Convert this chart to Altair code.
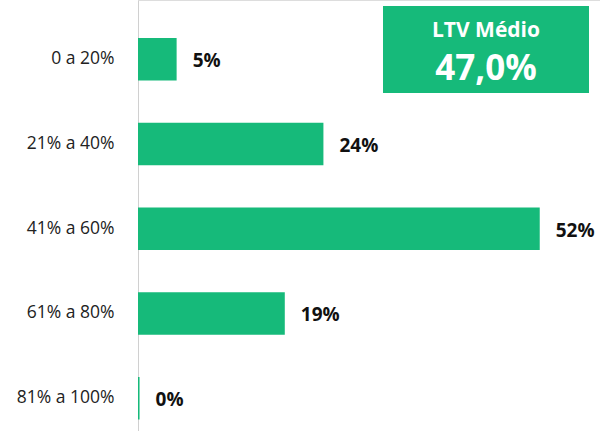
import altair as alt
import pandas as pd

categories = ["0 a 20%", "21% a 40%", "41% a 60%", "61% a 80%", "81% a 100%"]
values = [5, 24, 52, 19, 0.2]
labels = ["5%", "24%", "52%", "19%", "0%"]
box_title = "LTV Médio"
box_value = "47,0%"

GREEN = "#16BA7A"
FONT = "Open Sans"

df = pd.DataFrame({"cat": categories, "val": values, "lab": labels})

y_enc = alt.Y(
    "cat:N",
    sort=categories,
    title=None,
    scale=alt.Scale(paddingInner=0.5, paddingOuter=0.293, align=0.766),
    axis=alt.Axis(
        ticks=False,
        labelFontSize=17.5,
        labelFont=FONT,
        labelColor="#222222",
        labelPadding=24,
        domainColor="#d0d0d0",
        domainWidth=1,
        grid=False,
    ),
)
x_enc = alt.X("val:Q", title=None, scale=alt.Scale(domain=[0, 59.8], nice=False), axis=None)

bars = alt.Chart(df).mark_bar(color=GREEN).encode(x=x_enc, y=y_enc)
texts = alt.Chart(df).mark_text(
    align="left", baseline="middle", dx=16, dy=2, font=FONT, fontSize=19,
    fontWeight="bold", color="#111111"
).encode(x=x_enc, y=y_enc, text="lab:N")

box_df = pd.DataFrame({"t1": [box_title], "t2": [box_value]})
box = alt.Chart(box_df).mark_rect(color=GREEN).encode(
    x=alt.value(245), x2=alt.value(451), y=alt.value(6), y2=alt.value(93)
)
t1 = alt.Chart(box_df).mark_text(
    color="white", font=FONT, fontSize=21, fontWeight="bold", align="center", baseline="middle"
).encode(x=alt.value(348), y=alt.value(31), text="t1:N")
t2 = alt.Chart(box_df).mark_text(
    color="white", font=FONT, fontSize=35, fontWeight="bold", align="center", baseline="middle"
).encode(x=alt.value(348), y=alt.value(69), text="t2:N")

chart = (
    alt.layer(bars, texts, box, t1, t2)
    .properties(
        width=462,
        height=431,
        autosize=alt.AutoSizeParams(type="none"),
        padding={"left": 138, "top": 0, "right": 0, "bottom": 0},
    )
    .configure_view(stroke=None)
    .configure(background="white")
)

chart.save("out.html", embed_options={"renderer": "svg", "actions": False})
